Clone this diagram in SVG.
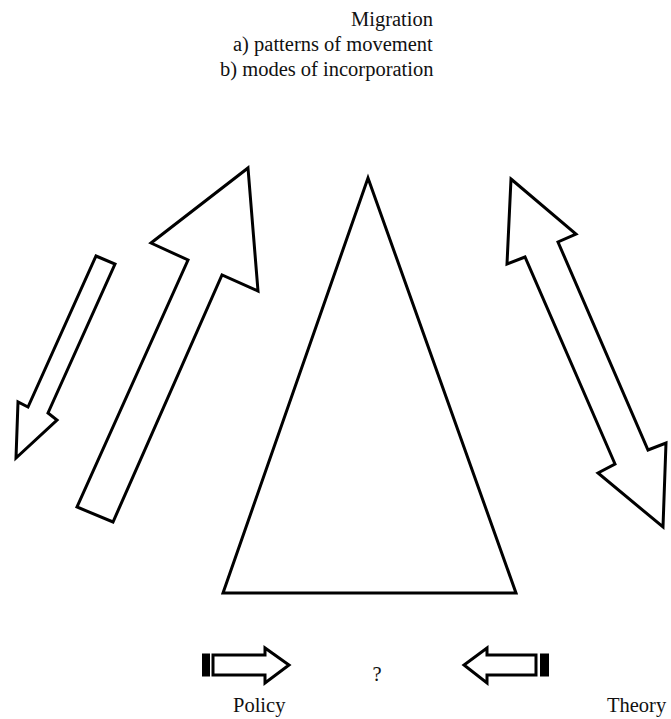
<svg xmlns="http://www.w3.org/2000/svg" width="671" height="719" viewBox="0 0 671 719">
<style>
.o{fill:#fff;stroke:#000;stroke-width:3;stroke-linejoin:miter}
text{font-family:'Liberation Serif','Times New Roman','DejaVu Serif',serif;font-size:20.5px;fill:#111}
</style>
<rect width="671" height="719" fill="#fff"/>
<g id="title">
<text x="351" y="26" font-family="Liberation Serif, serif">Migration</text>
<text x="233" y="51" font-family="Liberation Serif, serif">a) patterns of movement</text>
<text x="220" y="76" font-family="Liberation Serif, serif">b) modes of incorporation</text>
</g>
<g id="triangle"><path class="o" d="M368,178 L516,593 L223,593 Z"/></g>
<g id="connectors">
<path id="bigUp" class="o" d="M248,168 L258,291 L222,275 L113,522 L77,507 L188,260 L151,243 Z"/>
<path id="smallDown" class="o" d="M96,256 L115,264 L48,413 L57,420 L16,458 L18,402 L28,407 Z"/>
<path id="double" class="o" d="M511,179 L576,234 L558,242 L648,450 L666,443 L663,527 L598,473 L615,464 L525,257 L507,264 Z"/>
<g id="policyArrow">
<path class="o" d="M213,655 L265,655 L265,648 L289,665 L265,683 L265,675 L213,675 Z"/>
<rect x="202" y="653.5" width="8" height="23" fill="#000"/>
</g>
<g id="theoryArrow">
<path class="o" d="M536,655 L487,655 L487,648 L464,665 L487,683 L487,675 L536,675 Z"/>
<rect x="540" y="653.5" width="9" height="23" fill="#000"/>
</g>
</g>
<g id="q"><text x="377" y="681" text-anchor="middle" font-family="Liberation Serif, serif" font-size="22">?</text></g>
<g id="policy"><text x="233" y="712" font-family="Liberation Serif, serif">Policy</text></g>
<g id="theory"><text x="607" y="712" font-family="Liberation Serif, serif">Theory</text></g>
</svg>
